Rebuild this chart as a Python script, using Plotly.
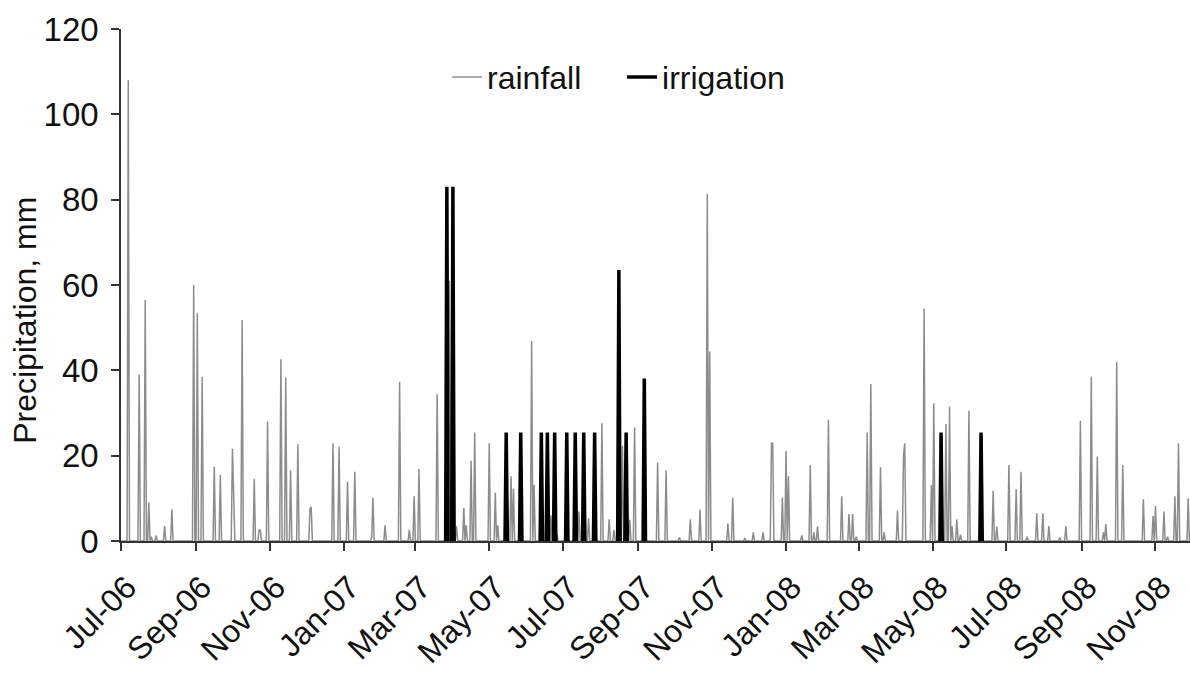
import pandas as pd
import plotly.graph_objects as go

# ---- data ----
rain_dates = [
    "2006-07-07", "2006-07-16", "2006-07-21", "2006-07-24", "2006-07-26", "2006-07-30",
    "2006-08-06", "2006-08-12", "2006-08-30", "2006-09-02", "2006-09-06", "2006-09-16",
    "2006-09-21", "2006-10-01", "2006-10-02", "2006-10-09", "2006-10-19", "2006-10-23",
    "2006-10-24", "2006-10-30", "2006-11-10", "2006-11-14", "2006-11-18", "2006-11-24",
    "2006-12-04", "2006-12-05", "2006-12-23", "2006-12-28", "2007-01-04", "2007-01-10",
    "2007-01-24", "2007-01-25", "2007-02-04", "2007-02-16", "2007-02-24", "2007-02-28",
    "2007-03-04", "2007-03-19", "2007-03-29", "2007-04-04", "2007-04-10", "2007-04-12",
    "2007-04-16", "2007-04-19", "2007-05-01", "2007-05-06", "2007-05-08", "2007-05-19",
    "2007-05-21", "2007-06-05", "2007-06-07", "2007-06-21", "2007-06-26", "2007-07-14",
    "2007-07-22", "2007-08-02", "2007-08-08", "2007-08-12", "2007-08-19", "2007-08-25",
    "2007-08-29", "2007-09-17", "2007-09-24", "2007-10-05", "2007-10-14", "2007-10-22",
    "2007-10-28", "2007-10-30", "2007-11-14", "2007-11-18", "2007-11-28", "2007-12-05",
    "2007-12-13", "2007-12-20", "2007-12-21", "2007-12-29", "2008-01-01", "2008-01-03",
    "2008-01-14", "2008-01-21", "2008-01-24", "2008-01-27", "2008-02-05", "2008-02-16",
    "2008-02-22", "2008-02-25", "2008-02-28", "2008-03-08", "2008-03-11", "2008-03-19",
    "2008-03-22", "2008-04-02", "2008-04-07", "2008-04-08", "2008-04-24", "2008-04-30",
    "2008-05-02", "2008-05-12", "2008-05-15", "2008-05-17", "2008-05-21", "2008-05-24",
    "2008-05-31", "2008-06-20", "2008-06-23", "2008-07-03", "2008-07-09", "2008-07-13",
    "2008-07-18", "2008-07-26", "2008-07-31", "2008-08-05", "2008-08-14", "2008-08-19",
    "2008-08-31", "2008-09-09", "2008-09-14", "2008-09-19", "2008-09-21", "2008-09-30",
    "2008-10-05", "2008-10-22", "2008-10-30", "2008-11-01", "2008-11-08", "2008-11-11",
    "2008-11-17", "2008-11-20", "2008-11-28",
]
rain_mm = [
    108, 39, 56.5, 9, 1, 1.3,
    3.5, 7.4, 60, 53.4, 38.5, 17.4,
    15.5, 21.6, 12.7, 51.8, 14.5, 2.6,
    2.6, 28, 42.6, 38.4, 16.6, 22.7,
    7.5, 8, 22.9, 22.1, 13.9, 16.2,
    1, 10.2, 3.7, 37.3, 2.6, 10.5,
    16.9, 34.4, 61, 3.5, 7.7, 3.7,
    18.8, 25.4, 22.9, 11.3, 3.7, 15.2,
    12.3, 46.9, 13.1, 6, 1.5, 6.9,
    5.3, 27.6, 5.1, 2.6, 22.3, 5,
    26.6, 18.4, 16.6, 0.8, 5.1, 7.3,
    81.3, 44.4, 4.1, 10.2, 0.7, 2,
    2, 22.9, 22.9, 10.2, 21.1, 15.2,
    1.3, 17.8, 2, 3.4, 28.4, 10.5,
    6.3, 6.3, 1, 25.4, 36.8, 17.3,
    2, 7.1, 20, 22.9, 54.5, 13.1,
    32.3, 27.4, 31.5, 3.5, 5.1, 1.5,
    30.5, 11.8, 3.4, 17.8, 12.1, 16.2,
    1, 6.5, 6.5, 3.5, 0.8, 3.5,
    28.2, 38.5, 19.8, 2, 4, 42,
    17.8, 9.8, 5.9, 8.2, 6.9, 1,
    10.5, 22.9, 10,
]

irrigation_dates = [
    "2007-03-27", "2007-04-01", "2007-05-15", "2007-05-27", "2007-06-13", "2007-06-18",
    "2007-06-24", "2007-07-04", "2007-07-11", "2007-07-18", "2007-07-27", "2007-08-16",
    "2007-08-22", "2007-09-06", "2008-05-08", "2008-06-10",
]
irrigation_mm = [
    83, 83, 25.4, 25.4, 25.4, 25.4,
    25.4, 25.4, 25.4, 25.4, 25.4, 63.5,
    25.4, 38.1, 25.4, 25.4,
]

tick_dates = [
    "2006-07-01", "2006-09-01", "2006-11-01", "2007-01-01", "2007-03-01", "2007-05-01",
    "2007-07-01", "2007-09-01", "2007-11-01", "2008-01-01", "2008-03-01", "2008-05-01",
    "2008-07-01", "2008-09-01", "2008-11-01",
]
tick_labels = [
    "Jul-06", "Sep-06", "Nov-06", "Jan-07", "Mar-07", "May-07",
    "Jul-07", "Sep-07", "Nov-07", "Jan-08", "Mar-08", "May-08",
    "Jul-08", "Sep-08", "Nov-08",
]

# ---- build daily series (days without rain are 0) ----
days = pd.date_range("2006-07-01", "2008-11-30", freq="D")
rain = pd.Series(0.0, index=days)
rain.loc[pd.to_datetime(rain_dates)] = rain_mm

irr_x, irr_y = [], []
for d, v in zip(pd.to_datetime(irrigation_dates), irrigation_mm):
    irr_x += [d - pd.Timedelta(days=1), d, d + pd.Timedelta(days=1), None]
    irr_y += [0, v, 0, None]

FONT = "Arial, Liberation Sans, sans-serif"
AX = "#333333"

fig = go.Figure()
fig.add_trace(go.Scatter(x=rain.index, y=rain.values, mode="lines", name="rainfall",
                         line=dict(color="#8c8c8c", width=1.5)))
fig.add_trace(go.Scatter(x=irr_x, y=irr_y, mode="lines", name="irrigation",
                         line=dict(color="#000000", width=3.5), connectgaps=False))

fig.update_layout(
    width=1190, height=673,
    margin=dict(l=121, r=0, t=29, b=132),
    paper_bgcolor="white", plot_bgcolor="white",
    font=dict(family=FONT, color="#111111"),
    legend=dict(orientation="h", x=0.305, y=0.906, xanchor="left", yanchor="middle",
                font=dict(size=32, family=FONT), bgcolor="rgba(0,0,0,0)",
                entrywidth=130, entrywidthmode="pixels", tracegroupgap=0),
    showlegend=True,
)
fig.update_xaxes(
    type="date", range=["2006-07-01", "2008-11-29 12:00"],
    tickvals=tick_dates, ticktext=tick_labels, tickangle=-45,
    showgrid=False, zeroline=False, showline=True, linecolor=AX, linewidth=1.5,
    ticks="outside", ticklen=8, tickwidth=1.5, tickcolor=AX,
    tickfont=dict(size=32, family=FONT, color="#111111"), automargin=False,
    ticklabelstandoff=5, ticklabelshift=6,
)
fig.update_yaxes(
    range=[0, 120], tickvals=[0, 20, 40, 60, 80, 100, 120],
    showgrid=False, zeroline=False, showline=True, linecolor=AX, linewidth=1.5,
    ticks="outside", ticklen=8, tickwidth=1.5, tickcolor=AX,
    tickfont=dict(size=33, family=FONT, color="#111111"), automargin=False,
    ticklabelstandoff=6,
)
fig.add_annotation(text="Precipitation, mm", textangle=-90, xref="paper", yref="paper",
                   x=0, y=0.43, xanchor="center", yanchor="middle", xshift=-96,
                   showarrow=False, font=dict(size=32, family=FONT, color="#111111"))

fig.write_html("out.html")
